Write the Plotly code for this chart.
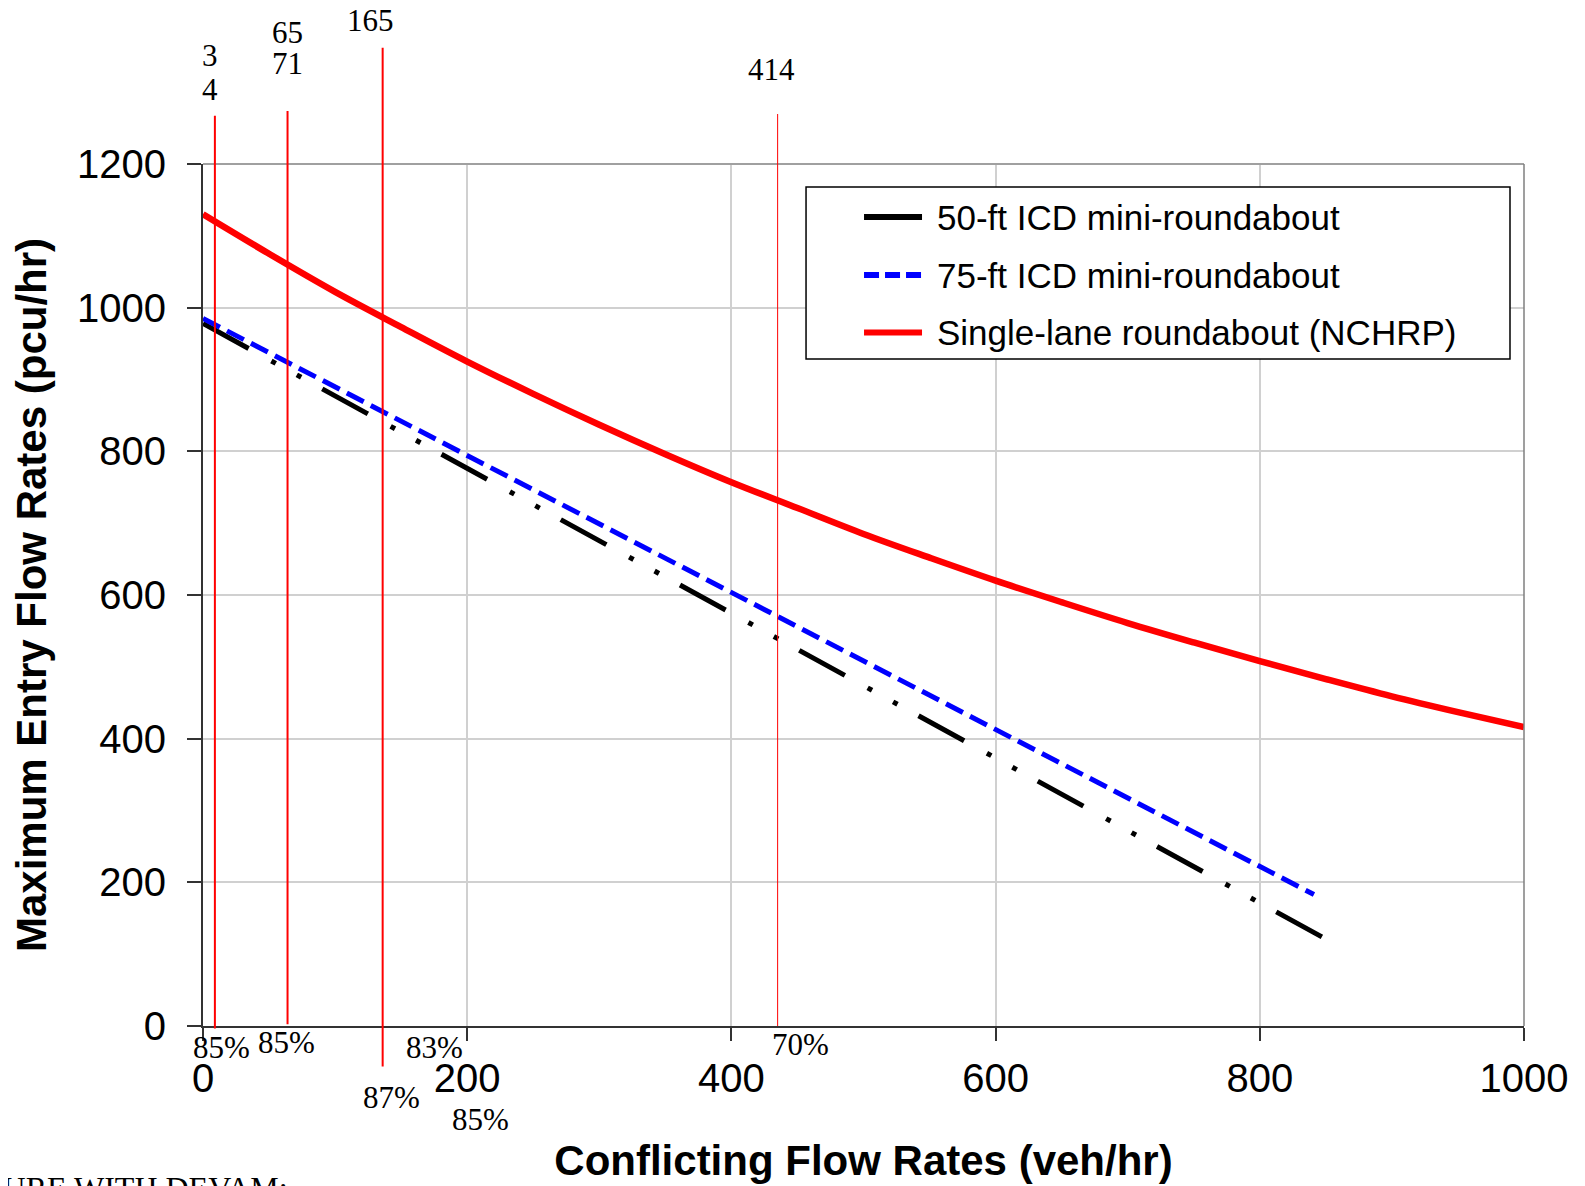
import plotly.graph_objects as go

# ---------------- data ----------------
# Single-lane roundabout (NCHRP)
x_nchrp = [0, 50, 100, 150, 200, 250, 300, 350, 400, 450, 500,
           550, 600, 650, 700, 750, 800, 850, 900, 950, 1000]
y_nchrp = [1130, 1075, 1022, 973, 925, 880, 837, 796, 757, 721, 685,
           652, 620, 590, 561, 534, 508, 483, 459, 437, 416]

# 75-ft ICD mini-roundabout
x_75 = [0, 200, 400, 600, 800, 841]
y_75 = [985, 794, 603, 412, 221, 183]

# 50-ft ICD mini-roundabout
x_50 = [0, 200, 400, 600, 800, 849]
y_50 = [978, 776, 575, 373, 172, 122]

series_names = ["50-ft ICD mini-roundabout", "75-ft ICD mini-roundabout",
                "Single-lane roundabout (NCHRP)"]

# red reference lines (conflicting flow values)
ref_x = [9, 64, 136, 435]

top_labels = ["3", "4", "65", "71", "165", "414"]
pct_labels = ["85%", "85%", "83%", "87%", "85%", "70%"]

x_ticks = [0, 200, 400, 600, 800, 1000]
y_ticks = [0, 200, 400, 600, 800, 1000, 1200]

# ---------------- figure ----------------
SANS = "Liberation Sans, Arial, sans-serif"
SERIF = "Liberation Serif, Times New Roman, serif"

fig = go.Figure()

fig.add_trace(go.Scatter(x=x_50, y=y_50, mode="lines", name=series_names[0],
                         line=dict(color="#000000", width=5,
                                   dash="52px,26px,5px,24px,5px,24px"),
                         showlegend=False))
fig.add_trace(go.Scatter(x=x_75, y=y_75, mode="lines", name=series_names[1],
                         line=dict(color="#0000ff", width=5, dash="19px,8px"),
                         showlegend=False))
fig.add_trace(go.Scatter(x=x_nchrp, y=y_nchrp, mode="lines", name=series_names[2],
                         line=dict(color="#ff0000", width=6.5, shape="spline"),
                         showlegend=False))

shapes = []
# plot frame: top and right borders
shapes.append(dict(type="line", xref="paper", yref="paper", x0=0, x1=1, y0=1, y1=1,
                   line=dict(color="#a0a0a0", width=2), layer="above"))
shapes.append(dict(type="line", xref="paper", yref="paper", x0=1, x1=1, y0=0, y1=1,
                   line=dict(color="#7f7f7f", width=1.5), layer="above"))

# red vertical reference lines
ref_extent = [(-0.003, 1.056, 2), (0.002, 1.0615, 2), (-0.047, 1.135, 2), (0.0, 1.058, 1)]
for xv, (y0, y1, w) in zip(ref_x, ref_extent):
    shapes.append(dict(type="line", xref="x", yref="paper", x0=xv, x1=xv, y0=y0, y1=y1,
                       line=dict(color="#ff0000", width=w), layer="above"))

# manual legend box
shapes.append(dict(type="rect", xref="paper", yref="paper", x0=0.4565, x1=0.9894,
                   y0=0.7738, y1=0.9733, line=dict(color="#000000", width=1.5),
                   fillcolor="white", layer="above"))
leg_rows = [0.9385, 0.8712, 0.8044]
leg_styles = [dict(color="#000000", width=6),
              dict(color="#0000ff", width=6, dash="15px,6px"),
              dict(color="#ff0000", width=6)]
for yr, st in zip(leg_rows, leg_styles):
    shapes.append(dict(type="line", xref="paper", yref="paper", x0=0.5004, x1=0.5443,
                       y0=yr, y1=yr, line=st, layer="above"))

annotations = []
for yr, name in zip(leg_rows, series_names):
    annotations.append(dict(xref="paper", yref="paper", x=0.5541, y=yr, text=name,
                            xanchor="left", yanchor="middle", showarrow=False,
                            font=dict(family=SANS, size=35, color="black")))

# top labels
top_pos = [(5.5, 1.1258), (5.5, 1.087), (63.6, 1.1528), (63.7, 1.1163),
           (127, 1.1668), (430, 1.1094)]
for t, (xv, yv) in zip(top_labels, top_pos):
    annotations.append(dict(xref="x", yref="paper", x=xv, y=yv, text=t, showarrow=False,
                            xanchor="center", yanchor="middle",
                            font=dict(family=SERIF, size=31, color="black")))

# percentage labels
pct_pos = [(14, -0.0255), (63, -0.0197), (175.3, -0.0244), (142.5, -0.0824),
           (209.8, -0.108), (452.3, -0.0209)]
for t, (xv, yv) in zip(pct_labels, pct_pos):
    annotations.append(dict(xref="x", yref="paper", x=xv, y=yv, text=t, showarrow=False,
                            xanchor="center", yanchor="middle",
                            font=dict(family=SERIF, size=31, color="black")))

# clipped caption from the source page
annotations.append(dict(xref="paper", yref="paper", x=0.0659, y=-0.188,
                        text="FIGURE WITH DEVAM:", showarrow=False,
                        xanchor="right", yanchor="middle",
                        font=dict(family=SERIF, size=32, color="black")))

fig.update_layout(
    width=1585, height=1186,
    margin=dict(l=195, r=69, t=156, b=168, pad=0),
    paper_bgcolor="white", plot_bgcolor="white",
    showlegend=False,
    shapes=shapes, annotations=annotations,
    xaxis=dict(range=[0, 1000], tickvals=x_ticks, showgrid=True,
               gridcolor="#d0d0d0", gridwidth=1.5, zeroline=False,
               showline=True, linecolor="#333333", linewidth=2,
               ticks="outside", ticklen=13, tickwidth=1.5, tickcolor="#333333",
               tickfont=dict(family=SANS, size=40, color="black"),
               ticklabelstandoff=3,
               title=dict(text="Conflicting Flow Rates (veh/hr)", standoff=47,
                          font=dict(family=SANS, size=42, color="black", weight="bold"))),
    yaxis=dict(range=[0, 1200], tickvals=y_ticks, showgrid=True,
               gridcolor="#d0d0d0", gridwidth=1.5, zeroline=False,
               showline=True, linecolor="#333333", linewidth=2,
               ticks="outside", ticklen=14, tickwidth=1.5, tickcolor="#333333",
               tickfont=dict(family=SANS, size=40, color="black"),
               ticklabelstandoff=13,
               title=dict(text="Maximum Entry Flow Rates (pcu/hr)", standoff=22,
                          font=dict(family=SANS, size=42, color="black", weight="bold"))),
)

fig.write_html("out.html")
